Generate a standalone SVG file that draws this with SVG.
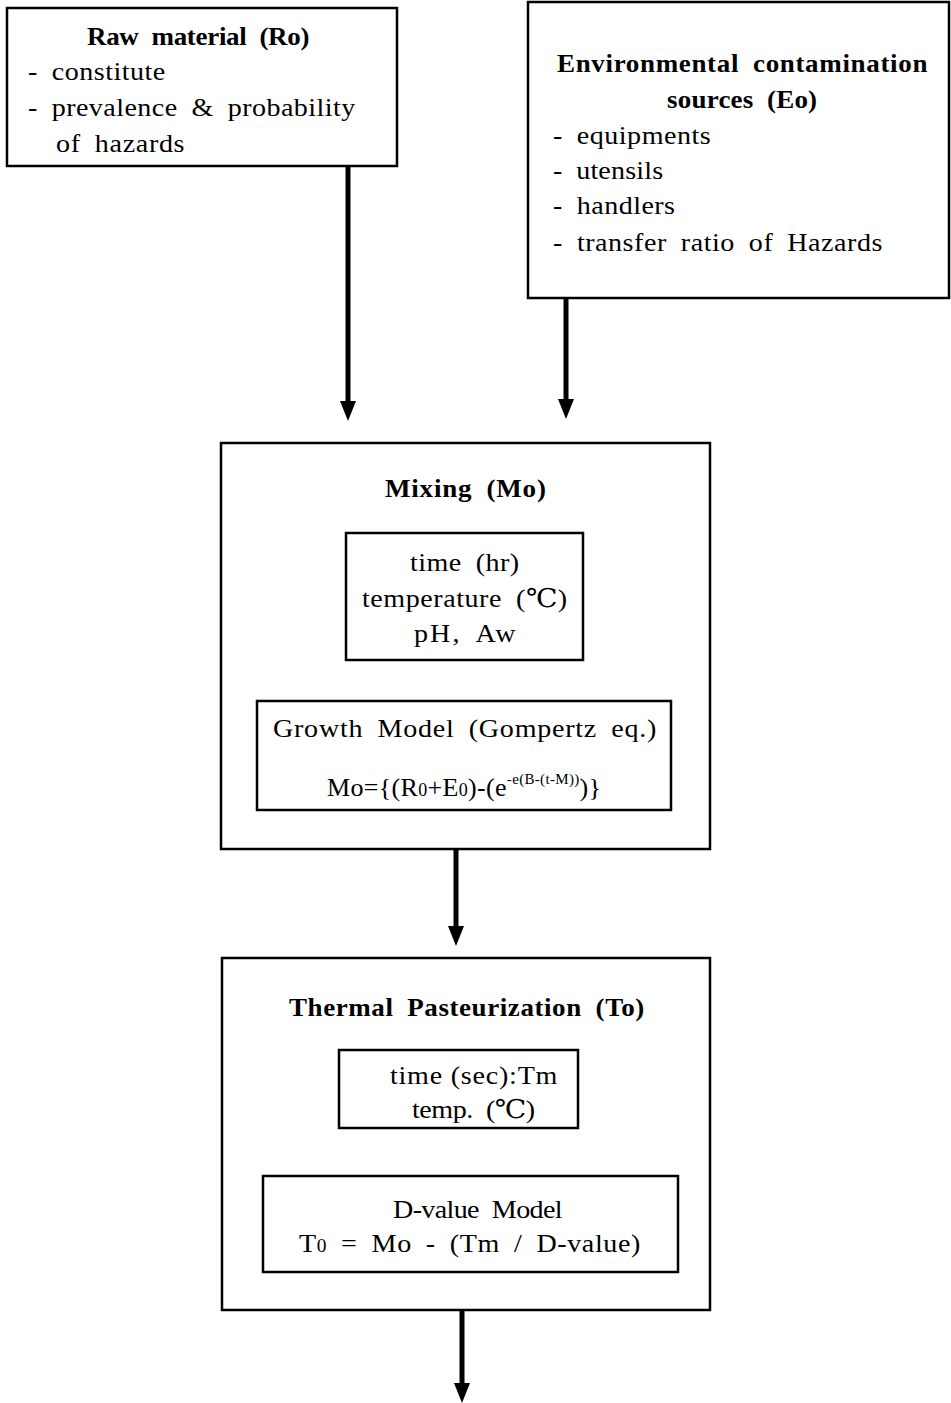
<svg xmlns="http://www.w3.org/2000/svg" width="951" height="1403" viewBox="0 0 951 1403">
  <style>
    .box { fill: #fff; stroke: #000; stroke-width: 2.5; }
    .t { font-family: "Liberation Serif", "DejaVu Serif", serif; font-size: 26px; fill: #000; word-spacing: 6px; }
    .b { font-weight: bold; font-size: 25px; }
    .f { font-size: 26px; word-spacing: 0; }
    .arrow { stroke: #000; stroke-width: 5; fill: none; }
    .sm { font-size: 18px; }
    .sup { font-size: 15px; }
  </style>
  <defs>
    <!-- solid arrowhead, tip at the origin, pointing down -->
    <path id="tip" d="M-8,-20 L8,-20 L0,0 Z" fill="#000"/>
  </defs>

  <g id="connectors">
    <line class="arrow" x1="348" y1="166" x2="348" y2="402"/>
    <use href="#tip" x="348" y="421"/>
    <line class="arrow" x1="566" y1="298" x2="566" y2="400"/>
    <use href="#tip" x="566" y="419"/>
    <line class="arrow" x1="456" y1="849" x2="456" y2="927"/>
    <use href="#tip" x="456" y="946"/>
    <line class="arrow" x1="462" y1="1310" x2="462" y2="1384"/>
    <use href="#tip" x="462" y="1403"/>
  </g>

  <!-- text lines are widened 8% horizontally; textLength is in local units -->
  <g id="raw-material">
    <rect class="box" x="7" y="8" width="390" height="158"/>
    <text class="t b" transform="translate(87 45) scale(1.08 1)" textLength="206" lengthAdjust="spacing">Raw material (Ro)</text>
    <text class="t" transform="translate(28 80) scale(1.08 1)" textLength="127" lengthAdjust="spacing">- constitute</text>
    <text class="t" transform="translate(28 116) scale(1.08 1)" textLength="303" lengthAdjust="spacing">- prevalence &amp; probability</text>
    <text class="t" transform="translate(56 152) scale(1.08 1)" textLength="119" lengthAdjust="spacing">of hazards</text>
  </g>

  <g id="environmental-sources">
    <rect class="box" x="528" y="2" width="421" height="296"/>
    <text class="t b" transform="translate(557 72) scale(1.08 1)" textLength="343" lengthAdjust="spacing">Environmental contamination</text>
    <text class="t b" transform="translate(667 108) scale(1.08 1)" textLength="139" lengthAdjust="spacing">sources (Eo)</text>
    <text class="t" transform="translate(553 144) scale(1.08 1)" textLength="146" lengthAdjust="spacing">- equipments</text>
    <text class="t" transform="translate(553 179) scale(1.08 1)" textLength="102" lengthAdjust="spacing">- utensils</text>
    <text class="t" transform="translate(553 214) scale(1.08 1)" textLength="113" lengthAdjust="spacing">- handlers</text>
    <text class="t" transform="translate(553 251) scale(1.08 1)" textLength="305" lengthAdjust="spacing">- transfer ratio of Hazards</text>
  </g>

  <g id="mixing">
    <rect class="box" x="221" y="443" width="489" height="406"/>
    <text class="t b" transform="translate(385 497) scale(1.08 1)" textLength="149" lengthAdjust="spacing">Mixing (Mo)</text>
    <rect class="box" x="346" y="533" width="237" height="127"/>
    <text class="t" transform="translate(410 571) scale(1.08 1)" textLength="101" lengthAdjust="spacing">time (hr)</text>
    <text class="t" transform="translate(362 607) scale(1.08 1)" textLength="190" lengthAdjust="spacing">temperature (℃)</text>
    <text class="t" transform="translate(414 642) scale(1.08 1)" textLength="94" lengthAdjust="spacing">pH, Aw</text>
    <rect class="box" x="257" y="701" width="414" height="109"/>
    <text class="t" transform="translate(273 737) scale(1.08 1)" textLength="355" lengthAdjust="spacing">Growth Model (Gompertz eq.)</text>
    <text class="t f" x="327" y="796" textLength="274" lengthAdjust="spacing">Mo={(R<tspan class="sm">0</tspan>+E<tspan class="sm">0</tspan>)-(e<tspan class="sup" dy="-12">-e(B-(t-M))</tspan><tspan dy="12">)}</tspan></text>
  </g>

  <g id="thermal-pasteurization">
    <rect class="box" x="222" y="958" width="488" height="352"/>
    <text class="t b" transform="translate(289 1016) scale(1.08 1)" textLength="329" lengthAdjust="spacing">Thermal Pasteurization (To)</text>
    <rect class="box" x="339" y="1050" width="239" height="78"/>
    <text class="t" transform="translate(390 1084) scale(1.08 1)" style="word-spacing:0" textLength="155" lengthAdjust="spacing">time (sec):Tm</text>
    <text class="t" transform="translate(412 1118) scale(1.08 1)" textLength="114" lengthAdjust="spacing">temp. (℃)</text>
    <rect class="box" x="263" y="1176" width="415" height="96"/>
    <text class="t" transform="translate(393 1218) scale(1.08 1)" textLength="157" lengthAdjust="spacing">D-value Model</text>
    <text class="t" transform="translate(299 1252) scale(1.08 1)" textLength="316" lengthAdjust="spacing">T<tspan class="sm">0</tspan> = Mo - (Tm / D-value)</text>
  </g>
</svg>
